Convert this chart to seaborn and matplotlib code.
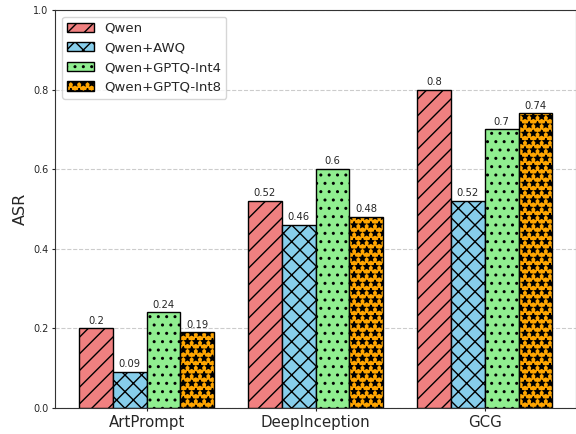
import pandas as pd
import matplotlib
matplotlib.use('Agg')
import matplotlib.pyplot as plt
import seaborn as sns

# dados
ataques = ['ArtPrompt', 'DeepInception', 'GCG']
modelos = ['Qwen', 'Qwen+AWQ', 'Qwen+GPTQ-Int4', 'Qwen+GPTQ-Int8']
asr_qwen = [0.2, 0.52, 0.8]
asr_awq = [0.09, 0.46, 0.52]
asr_int4 = [0.24, 0.6, 0.7]
asr_int8 = [0.19, 0.48, 0.74]

cores = ['lightcoral', 'skyblue', 'lightgreen', 'orange']
hachuras = ['//', 'xx', '..', '**']

linhas = []
for modelo, valores in zip(modelos, [asr_qwen, asr_awq, asr_int4, asr_int8]):
    for ataque, v in zip(ataques, valores):
        linhas.append({'Attack': ataque, 'Model': modelo, 'ASR': v})
df = pd.DataFrame(linhas)

sns.set_style('white')
fig, ax = plt.subplots(figsize=(5.76, 4.34), dpi=100)

sns.barplot(data=df, x='Attack', y='ASR', hue='Model', hue_order=modelos,
            palette=cores, edgecolor='black', linewidth=1, saturation=1, ax=ax)

# hachuras e rotulos em cada barra
for cont, h in zip(ax.containers, hachuras):
    for barra in cont:
        barra.set_hatch(h)
    ax.bar_label(cont, labels=[f'{b.get_height():g}' for b in cont], padding=2, fontsize=7.2)

# refaz as alças da legenda com as hachuras
handles, labels = ax.get_legend_handles_labels()
for hd, h in zip(handles, hachuras):
    hd.set_hatch(h)
    hd.set_edgecolor('black')
ax.legend(handles, labels, loc='upper left', fontsize=9.5)

# margens no estilo do matplotlib (seaborn usa -0.5..n-0.5)
ax.set_xlim(-0.54, len(ataques) - 1 + 0.54)
ax.set_ylim(0, 1.0)
ax.set_xlabel('')
ax.set_ylabel('ASR', fontsize=11.5)
ax.tick_params(axis='x', labelsize=10.8, bottom=True, length=2.5, pad=2.5)
ax.tick_params(axis='y', labelsize=7, left=True, length=2.5, pad=2.5)
ax.yaxis.grid(True, linestyle='--', color='#cccccc', linewidth=0.8)
ax.set_axisbelow(True)
for s in ax.spines.values():
    s.set_color('#333333')

plt.subplots_adjust(left=0.096, right=1.0, top=0.977, bottom=0.06)
plt.savefig('out.png', dpi=100)
